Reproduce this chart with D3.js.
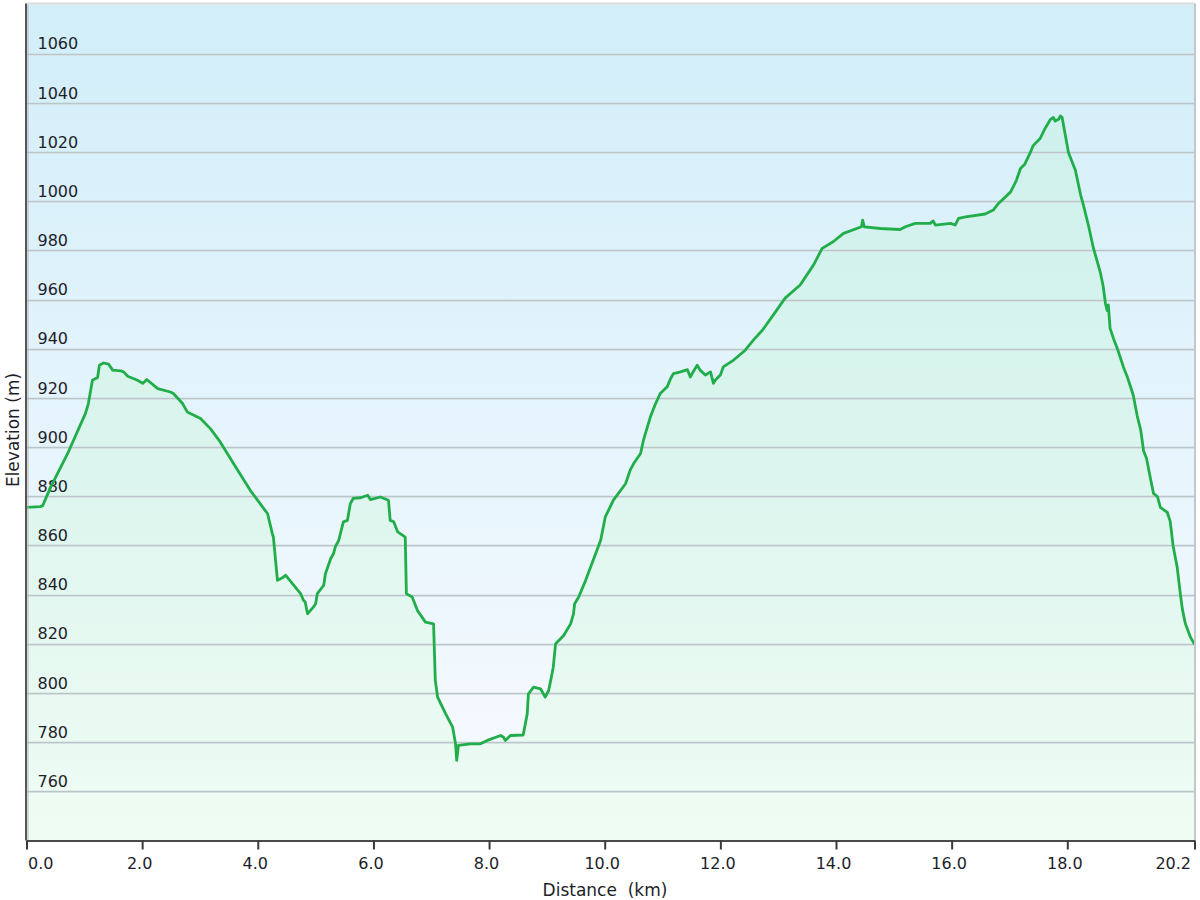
<!DOCTYPE html>
<html>
<head>
<meta charset="utf-8">
<script src="https://cdn.jsdelivr.net/npm/d3@7/dist/d3.min.js"></script>
<style>
  html, body { margin: 0; padding: 0; background: #ffffff; }
  svg { display: block; }
  text { font-family: "DejaVu Sans", Verdana, sans-serif; fill: #1e1e2a; white-space: pre; }
</style>
</head>
<body>
<svg id="chart" width="1200" height="900"></svg>
<script>
// ---- data ----
const distanceKm = [
  0, 0.24, 0.28, 0.42, 0.71, 1.02, 1.07, 1.14, 1.23, 1.26, 1.33, 1.42, 1.49, 1.63, 1.68, 1.75,
  1.92, 2.01, 2.08, 2.27, 2.49, 2.54, 2.70, 2.78, 3.01, 3.18, 3.35, 3.58, 3.87, 4.17, 4.25, 4.27,
  4.34, 4.44, 4.48, 4.74, 4.79, 4.82, 4.86, 4.96, 5.00, 5.03, 5.14, 5.17, 5.20, 5.26, 5.31, 5.34,
  5.40, 5.48, 5.55, 5.60, 5.65, 5.78, 5.90, 5.95, 6.12, 6.26, 6.29, 6.35, 6.42, 6.55, 6.57, 6.67,
  6.76, 6.90, 7.04, 7.07, 7.11, 7.25, 7.37, 7.42, 7.44, 7.47, 7.68, 7.85, 7.97, 8.20, 8.25, 8.28,
  8.37, 8.59, 8.66, 8.68, 8.77, 8.89, 8.97, 9.03, 9.06, 9.11, 9.15, 9.29, 9.41, 9.46, 9.48, 9.55,
  9.67, 9.93, 10.01, 10.15, 10.36, 10.44, 10.50, 10.62, 10.67, 10.79, 10.88, 10.96, 11.08, 11.14, 11.19, 11.31,
  11.43, 11.48, 11.53, 11.60, 11.65, 11.74, 11.83, 11.88, 11.91, 12.00, 12.05, 12.23, 12.43, 12.57, 12.73, 12.95,
  13.12, 13.38, 13.61, 13.76, 13.95, 14.13, 14.44, 14.46, 14.49, 14.77, 15.11, 15.20, 15.37, 15.63, 15.68, 15.72,
  15.98, 16.06, 16.12, 16.24, 16.58, 16.72, 16.81, 17.02, 17.12, 17.19, 17.26, 17.36, 17.41, 17.53, 17.62, 17.71,
  17.76, 17.79, 17.85, 17.88, 17.91, 18.02, 18.14, 18.23, 18.28, 18.37, 18.45, 18.57, 18.62, 18.66, 18.69, 18.71,
  18.74, 18.80, 18.87, 18.97, 19.04, 19.14, 19.21, 19.27, 19.32, 19.37, 19.44, 19.49, 19.56, 19.61, 19.73, 19.78,
  19.83, 19.90, 19.95, 19.99, 20.04, 20.13, 20.20
];
const elevationM = [
  875.5, 875.8, 876.2, 883.8, 897.3, 913.7, 917.7, 927.2, 928.3, 933.3, 934.2, 933.7, 931.3, 931.0, 930.6, 928.8,
  927.2, 925.9, 927.5, 923.8, 922.4, 921.8, 917.7, 914.3, 911.6, 907.5, 902.1, 893.3, 882.4, 872.9, 864.9, 863.4,
  845.8, 847.1, 847.9, 840.4, 837.7, 837.0, 832.2, 834.9, 836.3, 840.4, 843.8, 848.5, 850.5, 854.6, 856.7, 859.4,
  862.1, 869.6, 870.2, 877.0, 879.1, 879.4, 880.4, 878.6, 879.7, 878.4, 870.2, 869.6, 865.5, 863.4, 840.4, 839.0,
  833.6, 828.8, 828.1, 805.1, 798.3, 791.5, 786.1, 779.3, 772.6, 778.7, 779.3, 779.3, 780.7, 782.7, 782.0, 780.7,
  782.7, 782.9, 791.5, 799.6, 802.4, 801.7, 798.3, 801.0, 804.4, 810.5, 820.0, 823.4, 828.1, 832.2, 836.3, 839.0,
  845.8, 862.1, 871.6, 878.4, 885.1, 890.6, 893.3, 897.4, 902.8, 912.3, 917.7, 921.8, 924.5, 927.9, 929.9, 930.6,
  931.5, 928.5, 930.6, 933.3, 931.3, 929.3, 930.6, 925.9, 927.2, 929.3, 932.6, 935.4, 939.4, 943.5, 947.6, 954.9,
  960.6, 965.9, 974.0, 980.8, 983.5, 986.9, 989.6, 992.3, 989.6, 988.9, 988.5, 989.6, 991.0, 991.0, 992.0, 990.3,
  991.0, 990.3, 993.0, 993.6, 994.8, 996.4, 999.1, 1003.8, 1008.5, 1013.3, 1014.9, 1019.8, 1022.6, 1025.5, 1029.8, 1033.3,
  1034.1, 1032.6, 1033.3, 1034.7, 1034.1, 1019.8, 1012.6, 1002.6, 998.3, 989.7, 981.1, 971.2, 965.5, 958.4, 955.5, 957.8,
  948.3, 944.1, 939.8, 932.6, 928.4, 921.2, 912.6, 906.9, 898.4, 895.5, 887.0, 881.2, 879.8, 875.5, 873.4, 869.8,
  859.8, 851.2, 841.3, 834.1, 828.4, 822.7, 819.8
];
const yTickValues = [760, 780, 800, 820, 840, 860, 880, 900, 920, 940, 960, 980, 1000, 1020, 1040, 1060];
const xTickValues = [0, 2, 4, 6, 8, 10, 12, 14, 16, 18, 20.2];
const xTickLabels = ["0.0", "2.0", "4.0", "6.0", "8.0", "10.0", "12.0", "14.0", "16.0", "18.0", "20.2"];
const xTitle = "Distance  (km)";
const yTitle = "Elevation (m)";

// ---- layout ----
const plot = { left: 26.5, right: 1194.5, top: 4.5, bottom: 840.5 };
const svg = d3.select("#chart");

const x = d3.scaleLinear().domain([0, 20.2]).range([plot.left, plot.right]);
const y = d3.scaleLinear().domain([740, 1080]).range([plot.bottom, plot.top]);

const points = distanceKm.map((d, i) => ({ d, e: elevationM[i] }));

const defs = svg.append("defs");
const bg = defs.append("linearGradient").attr("id", "bg").attr("x1", 0).attr("y1", 0).attr("x2", 0).attr("y2", 1);
bg.append("stop").attr("offset", "0%").attr("stop-color", "#d1eef9");
bg.append("stop").attr("offset", "82%").attr("stop-color", "#f2f8fe");
bg.append("stop").attr("offset", "100%").attr("stop-color", "#f6fbff");

const ag = defs.append("linearGradient").attr("id", "areaFill")
  .attr("gradientUnits", "userSpaceOnUse")
  .attr("x1", 0).attr("y1", plot.top).attr("x2", 0).attr("y2", plot.bottom);
ag.append("stop").attr("offset", "0%").attr("stop-color", "#ccefee");
ag.append("stop").attr("offset", "45%").attr("stop-color", "#d8f4ed");
ag.append("stop").attr("offset", "100%").attr("stop-color", "#effcf4");

// background
svg.append("rect")
  .attr("x", plot.left).attr("y", plot.top)
  .attr("width", plot.right - plot.left).attr("height", plot.bottom - plot.top)
  .attr("fill", "url(#bg)");

// area
const area = d3.area().x(p => x(p.d)).y0(plot.bottom).y1(p => y(p.e));
svg.append("path").datum(points).attr("d", area).attr("fill", "url(#areaFill)");

// gridlines
const grid = svg.append("g");
yTickValues.forEach(v => {
  grid.append("line")
    .attr("x1", plot.left).attr("x2", plot.right)
    .attr("y1", Math.round(y(v)) + 1.5).attr("y2", Math.round(y(v)) + 1.5)
    .attr("stroke", "#e2eaec").attr("stroke-width", 1);
  grid.append("line")
    .attr("x1", plot.left).attr("x2", plot.right)
    .attr("y1", Math.round(y(v)) + 0.5).attr("y2", Math.round(y(v)) + 0.5)
    .attr("stroke", "#b9c5c9").attr("stroke-width", 1.3);
});

// y tick labels (inside plot, above gridlines)
const yAxis = d3.axisLeft(y).tickValues(yTickValues).tickSize(0).tickFormat(d3.format("d"));
const yg = svg.append("g").attr("transform", `translate(${plot.left},0)`).call(yAxis);
yg.select(".domain").remove();
yg.selectAll("text")
  .attr("x", 11).attr("dy", "-0.3em")
  .attr("text-anchor", "start")
  .style("font-size", "16px").style("font-family", "'DejaVu Sans', Verdana, sans-serif")
  .attr("fill", "#1e1e2a");

// line
const line = d3.line().x(p => x(p.d)).y(p => y(p.e));
svg.append("path").datum(points).attr("d", line)
  .attr("fill", "none").attr("stroke", "#21ae4a").attr("stroke-width", 2.8)
  .attr("stroke-linejoin", "round");

// frame
svg.append("line").attr("x1", plot.left).attr("x2", plot.right).attr("y1", plot.top - 1).attr("y2", plot.top - 1)
  .attr("stroke", "#dcdcdc").attr("stroke-width", 2);
svg.append("line").attr("x1", plot.right + 0.5).attr("x2", plot.right + 0.5).attr("y1", plot.top - 1).attr("y2", plot.bottom)
  .attr("stroke", "#c4c8ca").attr("stroke-width", 2);
svg.append("line").attr("x1", plot.left + 1.5).attr("x2", plot.left + 1.5).attr("y1", plot.top).attr("y2", plot.bottom)
  .attr("stroke", "#b8b8b8").attr("stroke-width", 1);
svg.append("line").attr("x1", plot.left - 0.5).attr("x2", plot.left - 0.5).attr("y1", plot.top - 1).attr("y2", plot.bottom)
  .attr("stroke", "#555").attr("stroke-width", 2);

// x axis
const xAxis = d3.axisBottom(x).tickValues(xTickValues).tickSize(9).tickSizeOuter(0)
  .tickFormat((d, i) => xTickLabels[i]);
const xg = svg.append("g").attr("transform", `translate(0,${plot.bottom})`).call(xAxis);
xg.select(".domain").attr("stroke", "#4a4a4a").attr("stroke-width", 2.2);
xg.selectAll(".tick line").attr("stroke", "#3a3a3a").attr("stroke-width", 2);
xg.selectAll("text")
  .attr("y", 17).attr("dy", "0.71em")
  .style("font-size", "16px").style("font-family", "'DejaVu Sans', Verdana, sans-serif")
  .attr("fill", "#1e1e2a")
  .attr("text-anchor", (d, i) => i === 0 ? "start" : (i === xTickValues.length - 1 ? "end" : "middle"))
  .attr("dx", (d, i) => i === 0 ? 1 : (i === xTickValues.length - 1 ? -4 : -3));

// titles
svg.append("text").attr("x", 605).attr("y", 896).attr("text-anchor", "middle")
  .style("font-size", "17px").text(xTitle);
svg.append("text").attr("transform", "translate(19,430) rotate(-90)").attr("text-anchor", "middle")
  .style("font-size", "17px").text(yTitle);
</script>
</body>
</html>
